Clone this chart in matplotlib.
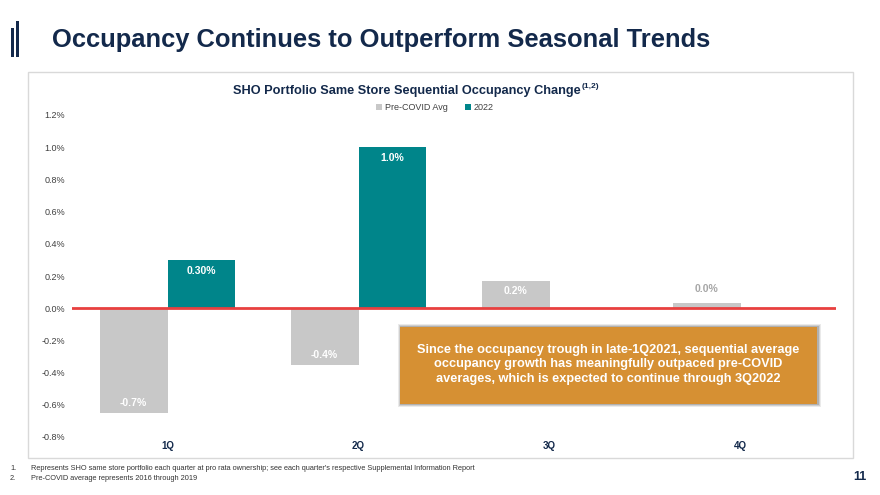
import numpy as np
import matplotlib.pyplot as plt
from matplotlib.patches import Rectangle
from matplotlib.ticker import FuncFormatter

plt.rcParams['font.family'] = ['Liberation Sans', 'DejaVu Sans']

# data
quarters = ['1Q', '2Q', '3Q', '4Q']
pre_covid = [-0.65, -0.35, 0.17, 0.035]
pre_covid_labels = ['-0.7%', '-0.4%', '0.2%', '0.0%']
y2022 = [0.30, 1.00]
y2022_labels = ['0.30%', '1.0%']
yticks = [-0.8, -0.6, -0.4, -0.2, 0.0, 0.2, 0.4, 0.6, 0.8, 1.0, 1.2]

NAVY = '#13294b'
TEAL = '#00858a'
GRAY = '#c8c8c8'
RED = '#e8403f'
ORANGE = '#d69033'

W, H = 880, 495
fig = plt.figure(figsize=(8.8, 4.95), dpi=100)


def fx(px):
    return px / W


def fy(py):
    return 1 - py / H


# slide title with the double bar marker
fig.patches.append(Rectangle((fx(11), fy(57)), fx(2.6), (57 - 28) / H,
                             transform=fig.transFigure, color=NAVY, lw=0))
fig.patches.append(Rectangle((fx(16.3), fy(57)), fx(2.6), (57 - 21) / H,
                             transform=fig.transFigure, color=NAVY, lw=0))
fig.text(fx(52), fy(40), 'Occupancy Continues to Outperform Seasonal Trends',
         fontsize=18.4, fontweight='bold', color=NAVY, va='center')

# chart frame
fig.patches.append(Rectangle((fx(28), fy(458)), fx(853 - 28), (458 - 72) / H,
                             transform=fig.transFigure, fill=False,
                             edgecolor='#d9d9d9', lw=1))

fig.text(fx(581), fy(91), 'SHO Portfolio Same Store Sequential Occupancy Change',
         fontsize=9.2, fontweight='bold', color=NAVY, ha='right', va='center')
fig.text(fx(582), fy(87), '(1,2)', fontsize=6, fontweight='bold', color=NAVY,
         ha='left', va='center')

ax = fig.add_axes([fx(72), fy(437), fx(836 - 72), (437 - 115) / H])
x = np.arange(len(quarters))
w = 0.356
ax.bar(x - w / 2, pre_covid, w, color=GRAY, label='Pre-COVID Avg', zorder=2)
ax.bar(x[:len(y2022)] + w / 2, y2022, w, color=TEAL, label='2022', zorder=2)
ax.axhline(0, color=RED, lw=2, zorder=3)

for xi, v, lab in zip(x - w / 2, pre_covid, pre_covid_labels):
    if abs(v) < 0.1:
        ax.annotate(lab, (xi, v), xytext=(0, 6), textcoords='offset points',
                    ha='center', va='bottom', fontsize=7.5, fontweight='bold',
                    color='#a6a6a6')
    elif v > 0:
        ax.annotate(lab, (xi, v), xytext=(0, -7), textcoords='offset points',
                    ha='center', va='center', fontsize=7.5, fontweight='bold',
                    color='white')
    else:
        ax.annotate(lab, (xi, v), xytext=(0, 7), textcoords='offset points',
                    ha='center', va='center', fontsize=7.5, fontweight='bold',
                    color='white')
for xi, v, lab in zip(x[:len(y2022)] + w / 2, y2022, y2022_labels):
    ax.annotate(lab, (xi, v), xytext=(0, -8), textcoords='offset points',
                ha='center', va='center', fontsize=7.5, fontweight='bold',
                color='white')

ax.set_xlim(-0.5, 3.5)
ax.set_ylim(-0.8, 1.2)
ax.set_yticks(yticks)
ax.yaxis.set_major_formatter(FuncFormatter(lambda v, p: f'{v:.1f}%'))
ax.set_xticks(x)
ax.set_xticklabels(quarters, fontweight='bold', color=NAVY)
ax.tick_params(axis='y', length=0, labelsize=6.5, labelcolor='#404040', pad=5)
ax.tick_params(axis='x', length=0, labelsize=7, pad=3)
for s in ax.spines.values():
    s.set_visible(False)

fig.legend(loc='center', bbox_to_anchor=(fx(435), fy(108)), ncol=2,
           frameon=False, fontsize=6.5, handlelength=0.6, handleheight=0.6,
           handletextpad=0.3, columnspacing=2.0, labelcolor='#404040')

# call-out box with shadow
bx0, by0, bx1, by1 = 400, 327, 817, 404
for i, a in enumerate([0.12, 0.18, 0.25]):
    off = 3 - i
    fig.patches.append(Rectangle((fx(bx0 - off + 1), fy(by1 + off)),
                                 fx(bx1 - bx0 + 2 * off), (by1 - by0 + 2 * off) / H,
                                 transform=fig.transFigure, color='#555555',
                                 alpha=a, lw=0))
fig.patches.append(Rectangle((fx(bx0), fy(by1)), fx(bx1 - bx0), (by1 - by0) / H,
                             transform=fig.transFigure, color=ORANGE, lw=0))
fig.text(fx((bx0 + bx1) / 2), fy((by0 + by1) / 2 - 1),
         'Since the occupancy trough in late-1Q2021, sequential average\n'
         'occupancy growth has meaningfully outpaced pre-COVID\n'
         'averages, which is expected to continue through 3Q2022',
         ha='center', va='center', fontsize=9.2, fontweight='bold',
         color='white', linespacing=1.3)

# footnotes
fig.text(fx(10), fy(469), '1.', fontsize=5.3, color='#333333', va='center')
fig.text(fx(31), fy(469), 'Represents SHO same store portfolio each quarter at pro rata '
         "ownership; see each quarter's respective Supplemental Information Report",
         fontsize=5.35, color='#333333', va='center')
fig.text(fx(10), fy(478), '2.', fontsize=5.3, color='#333333', va='center')
fig.text(fx(31), fy(478), 'Pre-COVID average represents 2016 through 2019',
         fontsize=5.35, color='#333333', va='center')
fig.text(fx(866), fy(477), '11', fontsize=9, fontweight='bold', color=NAVY,
         ha='right', va='center')

fig.savefig('out.png', dpi=100)
